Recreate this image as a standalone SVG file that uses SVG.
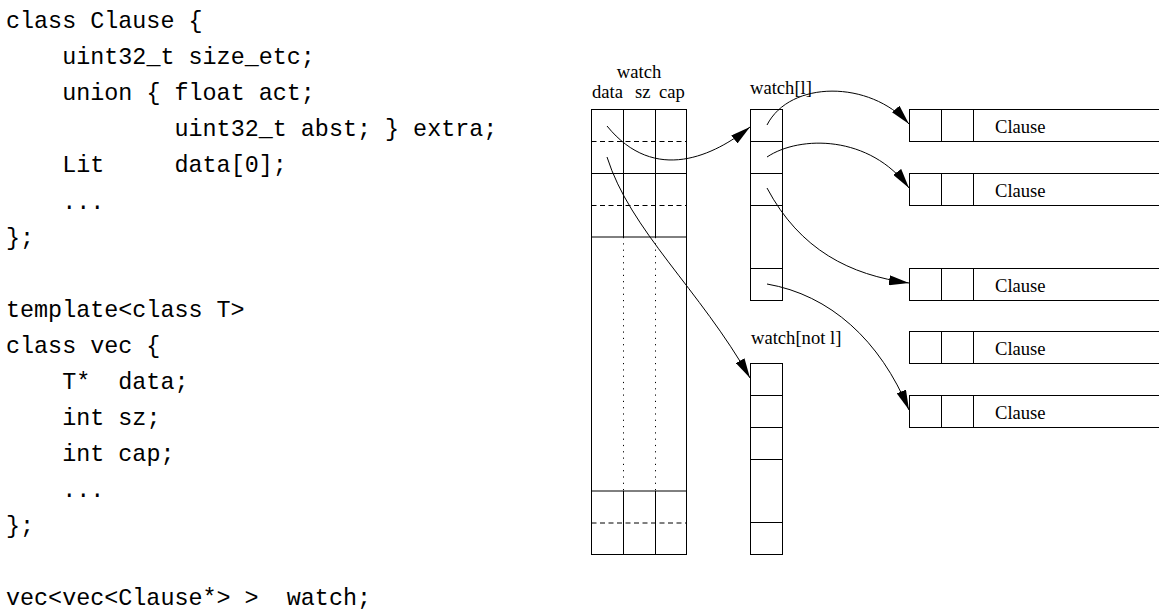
<svg xmlns="http://www.w3.org/2000/svg" width="1159" height="611" viewBox="0 0 1159 611">
<style>
.code{font-family:"Liberation Mono","DejaVu Sans Mono",monospace;font-size:23.4px;fill:#000}
.lbl{font-family:"Liberation Serif","Times New Roman",serif;font-size:18.6px;fill:#000}
.box{fill:none;stroke:#000;stroke-width:1}
.dash{fill:none;stroke:#000;stroke-width:1;stroke-dasharray:5 3.5}
.dot{fill:none;stroke:#000;stroke-width:1;stroke-dasharray:1.2 5.1}
.conn{fill:none;stroke:#000;stroke-width:1;marker-end:url(#arr)}
</style>
<defs>
<marker id="arr" markerUnits="userSpaceOnUse" viewBox="0 0 20 10" markerWidth="20" markerHeight="10" refX="20" refY="5" orient="auto">
<path d="M0,0 L20,5 L0,10 z" fill="#000"/>
</marker>
</defs>
<rect width="1159" height="611" fill="#fff"/>
<g id="code" class="code">
<text x="6" y="28">class Clause {</text>
<text x="62.2" y="64.1">uint32_t size_etc;</text>
<text x="62.2" y="100.2">union { float act;</text>
<text x="174.5" y="136.3">uint32_t abst; } extra;</text>
<text y="172.4"><tspan x="62.2">Lit</tspan><tspan x="174.5">data[0];</tspan></text>
<text x="62.2" y="208.5">...</text>
<text x="6" y="244.6">};</text>
<text x="6" y="316.8">template&lt;class T&gt;</text>
<text x="6" y="352.9">class vec {</text>
<text y="389"><tspan x="62.2">T*</tspan><tspan x="118.3">data;</tspan></text>
<text x="62.2" y="425.1">int sz;</text>
<text x="62.2" y="461.2">int cap;</text>
<text x="62.2" y="497.3">...</text>
<text x="6" y="533.4">};</text>
<text y="605"><tspan x="6">vec&lt;vec&lt;Clause*&gt; &gt;</tspan><tspan x="286.8">watch;</tspan></text>
</g>
<g id="watch">
<text class="lbl" x="639" y="78" text-anchor="middle">watch</text>
<text class="lbl" x="592" y="98">data</text>
<text class="lbl" x="635" y="98">sz</text>
<text class="lbl" x="659" y="98">cap</text>
<rect class="box" x="591.5" y="109.5" width="95" height="445"/>
<line class="box" x1="623.5" y1="109.5" x2="623.5" y2="237"/>
<line class="box" x1="655.5" y1="109.5" x2="655.5" y2="237"/>
<line class="box" x1="623.5" y1="491" x2="623.5" y2="554.5"/>
<line class="box" x1="655.5" y1="491" x2="655.5" y2="554.5"/>
<line class="box" x1="591.5" y1="173.5" x2="686.5" y2="173.5"/>
<line class="box" x1="591.5" y1="237" x2="686.5" y2="237"/>
<line class="box" x1="591.5" y1="491" x2="686.5" y2="491"/>
<line class="dash" x1="591.5" y1="141.5" x2="686.5" y2="141.5"/>
<line class="dash" x1="591.5" y1="205.5" x2="686.5" y2="205.5"/>
<line class="dash" x1="591.5" y1="523" x2="686.5" y2="523"/>
<line class="dot" x1="623.5" y1="237" x2="623.5" y2="491"/>
<line class="dot" x1="655.5" y1="237" x2="655.5" y2="491"/>
</g>
<g id="watch-l">
<text class="lbl" x="750" y="94">watch[l]</text>
<rect class="box" x="750.5" y="109.5" width="32" height="191"/>
<line class="box" x1="750.5" y1="141.5" x2="782.5" y2="141.5"/>
<line class="box" x1="750.5" y1="173.5" x2="782.5" y2="173.5"/>
<line class="box" x1="750.5" y1="205.5" x2="782.5" y2="205.5"/>
<line class="box" x1="750.5" y1="268.5" x2="782.5" y2="268.5"/>
</g>
<g id="watch-not-l">
<text class="lbl" x="751" y="344">watch[not l]</text>
<rect class="box" x="750.5" y="363.5" width="32" height="191"/>
<line class="box" x1="750.5" y1="395.5" x2="782.5" y2="395.5"/>
<line class="box" x1="750.5" y1="427.5" x2="782.5" y2="427.5"/>
<line class="box" x1="750.5" y1="459.5" x2="782.5" y2="459.5"/>
<line class="box" x1="750.5" y1="522.5" x2="782.5" y2="522.5"/>
</g>
<g id="clause1">
<rect class="box" x="909.5" y="109.5" width="270" height="32"/>
<line class="box" x1="941.5" y1="109.5" x2="941.5" y2="141.5"/>
<line class="box" x1="973.5" y1="109.5" x2="973.5" y2="141.5"/>
<text class="lbl" x="995" y="133">Clause</text>
</g>
<g id="clause2">
<rect class="box" x="909.5" y="173.5" width="270" height="32"/>
<line class="box" x1="941.5" y1="173.5" x2="941.5" y2="205.5"/>
<line class="box" x1="973.5" y1="173.5" x2="973.5" y2="205.5"/>
<text class="lbl" x="995" y="197">Clause</text>
</g>
<g id="clause3">
<rect class="box" x="909.5" y="268.5" width="270" height="32"/>
<line class="box" x1="941.5" y1="268.5" x2="941.5" y2="300.5"/>
<line class="box" x1="973.5" y1="268.5" x2="973.5" y2="300.5"/>
<text class="lbl" x="995" y="292">Clause</text>
</g>
<g id="clause4">
<rect class="box" x="909.5" y="331.5" width="270" height="32"/>
<line class="box" x1="941.5" y1="331.5" x2="941.5" y2="363.5"/>
<line class="box" x1="973.5" y1="331.5" x2="973.5" y2="363.5"/>
<text class="lbl" x="995" y="355">Clause</text>
</g>
<g id="clause5">
<rect class="box" x="909.5" y="395.5" width="270" height="32"/>
<line class="box" x1="941.5" y1="395.5" x2="941.5" y2="427.5"/>
<line class="box" x1="973.5" y1="395.5" x2="973.5" y2="427.5"/>
<text class="lbl" x="995" y="419">Clause</text>
</g>
<g id="connectors">
<path class="conn" d="M607,126 C655,185 715,155 750,127"/>
<path class="conn" d="M607,157 C630,230 700,290 750,378"/>
<path class="conn" d="M767,125 C790,80 870,80 909,124"/>
<path class="conn" d="M767,157 C800,135 870,135 909,188"/>
<path class="conn" d="M767,188 C800,250 850,275 909,283"/>
<path class="conn" d="M767,284 C830,295 880,340 909,410"/>
</g>
</svg>
